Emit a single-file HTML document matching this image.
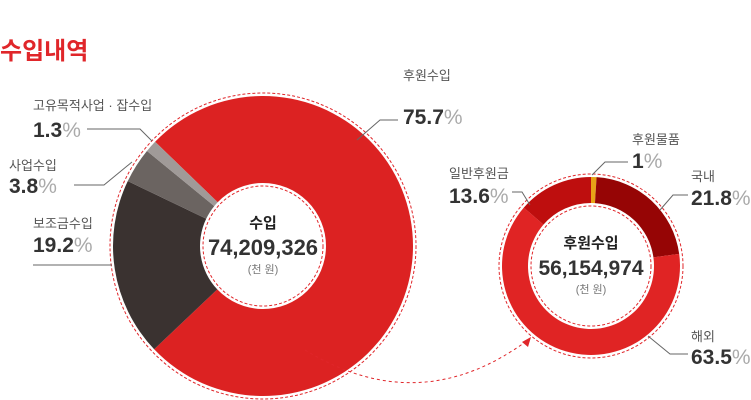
<!DOCTYPE html>
<html><head><meta charset="utf-8"><style>
body{margin:0;background:#fff;width:751px;height:400px;overflow:hidden;font-family:"Liberation Sans","Noto Sans CJK KR",sans-serif}
svg{display:block}
.lab{font-size:13px;fill:#555}
.val{font-size:21px;font-weight:bold;fill:#333}
.pct{font-weight:normal;fill:#aaa}
</style></head><body>
<svg width="751" height="400">
<text x="0" y="59" font-size="24" font-weight="bold" fill="#e0262a">수입내역</text>
<g id="big"></g><g id="small"></g>
<path d="M305,350 Q420,420 528,340" fill="none" stroke="#e0262a" stroke-dasharray="3,3"/>
<path d="M522,342 L531,337 L528,347 Z" fill="#e0262a"/>
<g stroke="#666" fill="none">
<polyline points="398,120 380,120 357,140"/>
<polyline points="87,129 140,129 152,141"/>
<polyline points="74,185 104,185 132,162"/>
<polyline points="33,265 112,265"/>
<polyline points="512,192 522,192 530,205"/>
<polyline points="628,162 605,162 592,175"/>
<polyline points="688,195 673,195 660,210"/>
<polyline points="688,354 670,354 648,336"/>
</g>
<g>
<text class="lab" x="403" y="80">후원수입</text><text class="val" x="403" y="124">75.7<tspan class="pct">%</tspan></text>
<text class="lab" x="33" y="110">고유목적사업 · 잡수입</text><text class="val" x="33" y="137">1.3<tspan class="pct">%</tspan></text>
<text class="lab" x="9" y="170">사업수입</text><text class="val" x="9" y="193">3.8<tspan class="pct">%</tspan></text>
<text class="lab" x="33" y="228">보조금수입</text><text class="val" x="33" y="252">19.2<tspan class="pct">%</tspan></text>
<text class="lab" x="632" y="144">후원물품</text><text class="val" x="632" y="168">1<tspan class="pct">%</tspan></text>
<text class="lab" x="449" y="178">일반후원금</text><text class="val" x="449" y="203">13.6<tspan class="pct">%</tspan></text>
<text class="lab" x="691" y="181">국내</text><text class="val" x="691" y="205">21.8<tspan class="pct">%</tspan></text>
<text class="lab" x="691" y="341">해외</text><text class="val" x="691" y="364">63.5<tspan class="pct">%</tspan></text>
</g>
<g text-anchor="middle">
<text x="263" y="228" font-size="15" font-weight="bold" fill="#222">수입</text>
<text x="263" y="255" font-size="22" font-weight="bold" fill="#333">74,209,326</text>
<text x="263" y="273" font-size="11" fill="#777">(천 원)</text>
</g>
<g text-anchor="middle">
<text x="591" y="248" font-size="15" font-weight="bold" fill="#222">후원수입</text>
<text x="591" y="275" font-size="21" font-weight="bold" fill="#333">56,154,974</text>
<text x="591" y="293" font-size="11" fill="#777">(천 원)</text>
</g>
</svg>
<script>
const bigLabels=["후원수입","보조금수입","사업수입","고유목적사업·잡수입"];
const bigValues=[75.7,19.2,3.8,1.3];
const bigColors=["#dc2222","#3a3230","#6b6461","#a09a98"];
const smallLabels=["후원물품","국내","해외","일반후원금"];
const smallValues=[1,21.8,63.5,13.6];
const smallColors=["#e8a317","#960505","#e02424","#be0e0e"];
const NS="http://www.w3.org/2000/svg";
function pt(cx,cy,r,a){const t=(a-90)*Math.PI/180;return [cx+r*Math.cos(t),cy+r*Math.sin(t)];}
function donut(g,cx,cy,ro,ri,vals,cols,start,name){
  const tot=vals.reduce((a,b)=>a+b,0);let a=start;
  vals.forEach((v,i)=>{const s=v/tot*360,b=a+s,l=s>180?1:0;
    const [x1,y1]=pt(cx,cy,ro,a),[x2,y2]=pt(cx,cy,ro,b),[x3,y3]=pt(cx,cy,ri,b),[x4,y4]=pt(cx,cy,ri,a);
    const p=document.createElementNS(NS,"path");
    p.setAttribute("d",`M${x1},${y1}A${ro},${ro} 0 ${l} 1 ${x2},${y2}L${x3},${y3}A${ri},${ri} 0 ${l} 0 ${x4},${y4}Z`);
    p.setAttribute("fill",cols[i]);
    
    
    g.appendChild(p);a=b;});
  [[ro+3],[ri-3]].forEach(([r])=>{const c=document.createElementNS(NS,"circle");
    c.setAttribute("cx",cx);c.setAttribute("cy",cy);c.setAttribute("r",r);
    c.setAttribute("fill","none");c.setAttribute("stroke","#e0262a");c.setAttribute("stroke-dasharray","3,2");
    
    
    g.appendChild(c);});
}
donut(document.getElementById("big"),263,246,150,63,bigValues,bigColors,314,"big-donut");
donut(document.getElementById("small"),591,266,89,63,smallValues,smallColors,0,"small-donut");
</script>
</body></html>
